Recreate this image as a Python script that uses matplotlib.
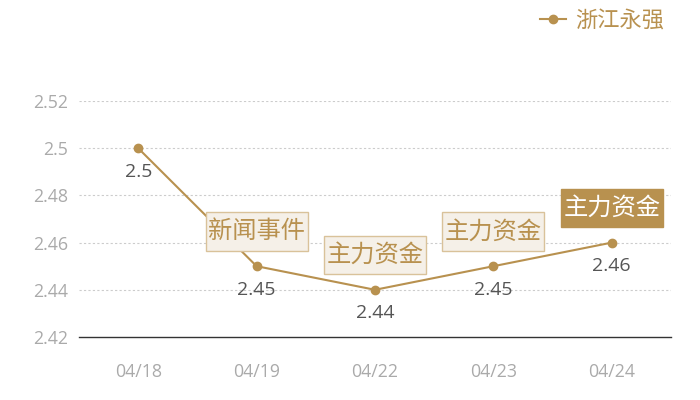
import matplotlib
matplotlib.use("Agg")
import matplotlib.pyplot as plt
from matplotlib.path import Path

plt.rcParams['font.family'] = ['Open Sans', 'Noto Sans CJK SC', 'DejaVu Sans']
CJK = ['Noto Sans CJK SC', 'DejaVu Sans']

dates = ["04/18", "04/19", "04/22", "04/23", "04/24"]
values = [2.50, 2.45, 2.44, 2.45, 2.46]
value_labels = ["2.5", "2.45", "2.44", "2.45", "2.46"]
tags = [None, "新闻事件", "主力资金", "主力资金", "主力资金"]
tag_filled = [False, False, False, False, True]
series_name = "浙江永强"
yticks = [2.42, 2.44, 2.46, 2.48, 2.50, 2.52]
ytick_labels = ["2.42", "2.44", "2.46", "2.48", "2.5", "2.52"]

gold = "#b8914f"


def tag_box(x0, y0, width, height, mutation_size):
    px = 0.1 * mutation_size
    py = 0.25 * mutation_size
    x0, y0 = x0 - px, y0 - py
    x1, y1 = x0 + width + 2 * px, y0 + height + 2 * py
    return Path([(x0, y0), (x1, y0), (x1, y1), (x0, y1), (x0, y0)],
                [Path.MOVETO, Path.LINETO, Path.LINETO, Path.LINETO, Path.CLOSEPOLY])


fig = plt.figure(figsize=(7, 4), dpi=100)
ax = fig.add_axes([79/700, 63/400, 592/700, 236/400])

x = list(range(len(dates)))
line, = ax.plot(x, values, color=gold, lw=1.5, marker='o', ms=6, label=series_name, zorder=3)

ax.set_xlim(-0.5, len(dates) - 0.5)
ax.set_ylim(2.42, 2.52)
ax.set_yticks(yticks)
ax.set_yticklabels(ytick_labels)
ax.set_xticks(x)
ax.set_xticklabels(dates)
ax.tick_params(axis='both', length=0, colors="#aaaaaa", labelsize=12.8)
ax.tick_params(axis='x', pad=19)
ax.tick_params(axis='y', pad=8)

for s in ['top', 'right', 'left']:
    ax.spines[s].set_visible(False)
ax.spines['bottom'].set_color("#333333")
ax.spines['bottom'].set_linewidth(1)

for yv in yticks[1:]:
    ax.axhline(yv, color="#cccccc", lw=0.8, ls=(0, (2, 2)), zorder=1)

for xi, v, lab in zip(x, values, value_labels):
    ax.annotate(lab, (xi, v), xytext=(0, -17), textcoords='offset points',
                ha='center', va='center', fontsize=14, color="#555555", zorder=4)

for xi, v, t, filled in zip(x, values, tags, tag_filled):
    if t is None:
        continue
    if filled:
        bbox = dict(boxstyle=tag_box, fc=gold, ec=gold, lw=1)
        tc = "white"
    else:
        bbox = dict(boxstyle=tag_box, fc="#f5f0e8", ec="#d9c29a", lw=1)
        tc = gold
    ax.annotate(t, (xi, v), xytext=(0, 25), textcoords='offset points',
                ha='center', va='center', fontsize=17.5, color=tc, bbox=bbox,
                family=CJK, zorder=5)

leg = fig.legend(handles=[line], loc='upper right', bbox_to_anchor=(0.968, 1.012),
                 frameon=False, handlelength=1.2, handletextpad=0.4,
                 borderaxespad=0.2, prop={'family': CJK, 'size': 16})
for txt in leg.get_texts():
    txt.set_color(gold)

fig.savefig("out.png", dpi=100)
